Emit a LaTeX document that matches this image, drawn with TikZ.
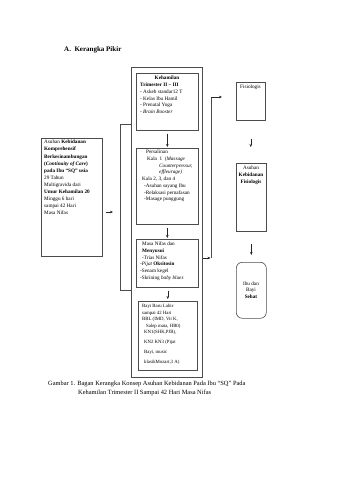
\documentclass[tikz,border=0pt]{standalone}
\usepackage{fontspec}
\setmainfont{Liberation Serif}
\usetikzlibrary{arrows.meta}
\begin{document}
\begin{tikzpicture}[x=1pt,y=-1pt,
  box/.style={draw=black!70, line width=0.6pt, rectangle, inner sep=0pt, anchor=north west},
  txt/.style={inner sep=0pt, anchor=north west, align=left, font=\fontsize{5.2}{6.7}\selectfont},
  arr/.style={-{Stealth[length=3pt,width=2.6pt]}, line width=0.5pt, draw=black!85},
  ln/.style={line width=0.6pt, draw=black!70}]
\useasboundingbox (0,0) rectangle (340,480);
\node[font=\fontsize{7}{8}\selectfont\bfseries, anchor=west, inner sep=0pt] (title) at (64,50) {A.\ \ Kerangka Pikir};

% middle column
\node[box, minimum width=71, minimum height=310] (outer) at (131,67) {};
\node[box, minimum width=62, minimum height=57] (keh) at (136,73) {};
\node[box, minimum width=62, minimum height=76] (pers) at (136,148) {};
\node[box, minimum width=62, minimum height=48] (nifas) at (136,239) {};
\node[box, minimum width=59, minimum height=69] (bayi) at (138,301) {};

\node[txt, anchor=north, font=\fontsize{5.2}{6.7}\selectfont\bfseries] (kehT) at (167,76) {Kehamilan};
\node[txt] (kehL) at (140,83) {\textbf{Trimester II – III}\\
 - Askeb standar12 T\\
 - Kelas Ibu Hamil\\
 - Prenatal Yoga\\
 - \textit{Brain Booster}};

\node[txt] (persL) at (140,150) {\hspace*{6pt}Persalinan\\
\hspace*{7pt}Kala\ \ 1\ \ (\textit{Massage}\\
\hspace*{19pt}\textit{Counterpressur,}\\
\hspace*{19pt}\textit{effleurage)}\\
\hspace*{2pt}Kala 2, 3, dan 4\\
\hspace*{4pt}-Asuhan sayang Ibu\\
\hspace*{4pt}-Relaksasi pernafasan\\
\hspace*{4pt}-Masage punggung};

\node[txt] (nifL) at (140,242) {\hspace*{2pt}Masa Nifas dan\\
\hspace*{2pt}\textbf{Menyusui}\\
\hspace*{2pt}-Trias Nifas\\
-\textit{Pijat} \textbf{Oksitosin}\\
-Senam kegel\\
-Skrining \textit{baby blues}};

\node[txt, font=\fontsize{4.8}{6.6}\selectfont] (bayiL) at (142,304) {Bayi Baru Lahir\\
sampai 42 Hari\\
BBL (IMD, Vit K,\\
\hspace*{4pt}Salep mata, HB0)\\
\hspace*{2pt}KN1(SHK,PJB),\\[2.6pt]
\hspace*{2pt}KN2 KN3 (Pijat\\[3.4pt]
\hspace*{2pt}Bayi, music\\[3.4pt]
\hspace*{2pt}klasikMozart,3 A)};

% left box
\node[box, minimum width=61, minimum height=118] (left) at (41,138) {};
\node[txt, font=\fontsize{5.2}{7.1}\selectfont] (leftL) at (44,140) {Asuhan \textbf{Kebidanan}\\
\textbf{Komprehensif}\\
\textbf{Berkesinambungan}\\
\textbf{(\textit{Continuity of Care})}\\
\textbf{pada Ibu “SQ” usia}\\
29 Tahun\\
Multigravida dari\\
\textbf{Umur Kehamilan 20}\\
Minggu 6 hari\\
sampai 42 Hari\\
Masa Nifas};

% right column
\node[box, minimum width=29, minimum height=38] (fis) at (236,82) {};
\node[txt, anchor=north] (fisL) at (250.5,85) {Fisiologis};
\node[box, minimum width=30, minimum height=68] (asf) at (236,163) {};
\node[txt, anchor=north, align=center] (asfL) at (251,166) {Asuhan\\ \textbf{Kebidanan}\\ \textbf{Fisiologis}};
\node[box, rounded corners=6pt, minimum width=30, minimum height=56] (ibu) at (236,262) {};
\node[txt, anchor=center, align=center] (ibuL) at (251,290) {Ibu dan\\ Bayi\\ \textbf{Sehat}};

% coordinates
\coordinate (lb1) at (120,124);
\coordinate (lb2) at (120,290);
\coordinate (lbm) at (120,212);
\coordinate (vr1) at (211,258);
\coordinate (vr2) at (211,97);

% connectors
\draw[arr, shorten <=3pt, shorten >=1pt] (keh.south) -- (pers.north);
\draw[arr, shorten <=3pt, shorten >=1pt] (pers.south) -- (pers.south |- nifas.north);
\draw[arr, shorten <=3pt, shorten >=2pt] (nifas.south -| bayi.north) -- (bayi.north);
\draw[ln] (outer.west |- lb1) -- (lb1) -- (lb2) -- (outer.west |- lb2);
\draw[arr, shorten <=3pt, shorten >=7pt] (left.east |- lbm) -- (lbm);
\draw[arr, shorten >=0.5pt] (outer.east |- vr1) -- (vr1);
\draw[ln] (vr1) -- (vr2);
\draw[arr, shorten >=14pt] (vr2) -- (vr2 -| fis.west);
\draw[arr, shorten <=18pt, shorten >=16pt] (fis.south) -- (fis.south |- asf.north);
\draw[arr, shorten <=12pt, shorten >=7pt] (asf.south) -- (asf.south |- ibu.north);

% caption
\node[anchor=west, inner sep=0pt, font=\fontsize{6.4}{7.5}\selectfont] (cap1) at (48,384) {Gambar 1. Bagan Kerangka Konsep Asuhan Kebidanan Pada Ibu “SQ” Pada};
\node[anchor=west, inner sep=0pt, font=\fontsize{6.4}{7.5}\selectfont] (cap2) at (78,393) {Kehamilan Trimester II Sampai 42 Hari Masa Nifas};
\end{tikzpicture}
\end{document}
